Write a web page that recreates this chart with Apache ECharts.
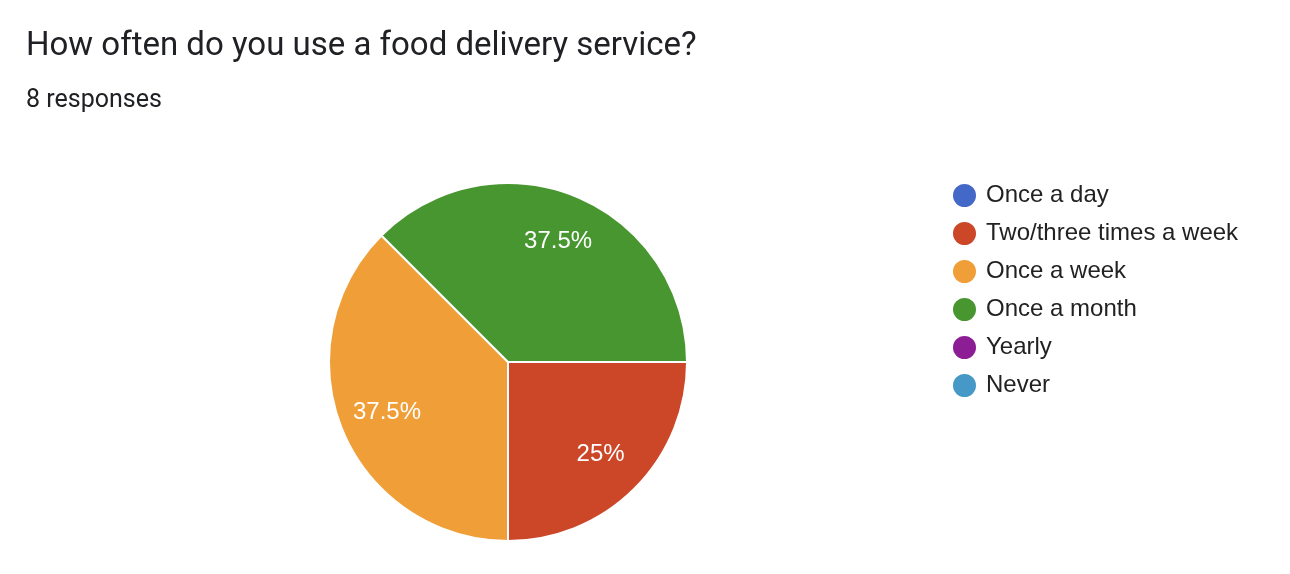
<!DOCTYPE html>
<html>
<head>
<meta charset="utf-8">
<script src="https://cdn.jsdelivr.net/npm/echarts@6/dist/echarts.min.js"></script>
<style>
html,body{margin:0;padding:0;background:#fff;}
#chart{width:1290px;height:574px;}
</style>
</head>
<body>
<div id="chart"></div>
<script>
const titleText = 'How often do you use a food delivery service?';
const subtitleText = '8 responses';
const categories = ['Once a day', 'Two/three times a week', 'Once a week', 'Once a month', 'Yearly', 'Never'];
const counts = [0, 2, 3, 3, 0, 0];
const colors = ['#4468c8', '#cc4628', '#f09e38', '#479630', '#8d1d95', '#4698c6'];

const pieData = categories.map((c, i) => ({ name: c, value: counts[i], itemStyle: { color: colors[i] } }));
const labelData = categories.map((c, i) => ({ name: c, value: counts[i] }));

const sansFont = "'Liberation Sans', Arial, sans-serif";

const chart = echarts.init(document.getElementById('chart'), null, { renderer: 'canvas' });
chart.setOption({
  backgroundColor: '#ffffff',
  animation: false,
  title: [
    { text: titleText, left: 26, top: 30, padding: 0, textStyle: { fontFamily: 'Roboto', fontSize: 33, fontWeight: 'normal', color: '#202124' } },
    { text: subtitleText, left: 26, top: 88, padding: 0, textStyle: { fontFamily: 'Roboto', fontSize: 25, fontWeight: 'normal', color: '#202124' } }
  ],
  legend: {
    orient: 'vertical',
    left: 951,
    top: 182,
    padding: 0,
    icon: 'circle',
    itemWidth: 25,
    itemHeight: 25,
    itemGap: 11,
    data: categories,
    textStyle: { fontFamily: sansFont, fontSize: 24, color: '#222222', padding: [0, 0, 0, 4] },
    selectedMode: false
  },
  series: [
    {
      type: 'pie',
      center: [508, 362],
      radius: [0, 179],
      startAngle: 0,
      clockwise: true,
      silent: true,
      label: { show: false },
      labelLine: { show: false },
      itemStyle: { borderColor: '#ffffff', borderWidth: 2 },
      emphasis: { disabled: true },
      data: pieData
    },
    {
      type: 'pie',
      center: [508, 362],
      radius: [0, 256],
      startAngle: 0,
      clockwise: true,
      silent: true,
      z: 5,
      itemStyle: { color: 'rgba(0,0,0,0)', borderWidth: 0 },
      label: {
        show: true,
        position: 'inside',
        color: '#ffffff',
        fontFamily: sansFont,
        fontSize: 24,
        formatter: p => (p.value ? p.percent + '%' : '')
      },
      labelLine: { show: false },
      emphasis: { disabled: true },
      data: labelData
    }
  ]
});
</script>
</body>
</html>
